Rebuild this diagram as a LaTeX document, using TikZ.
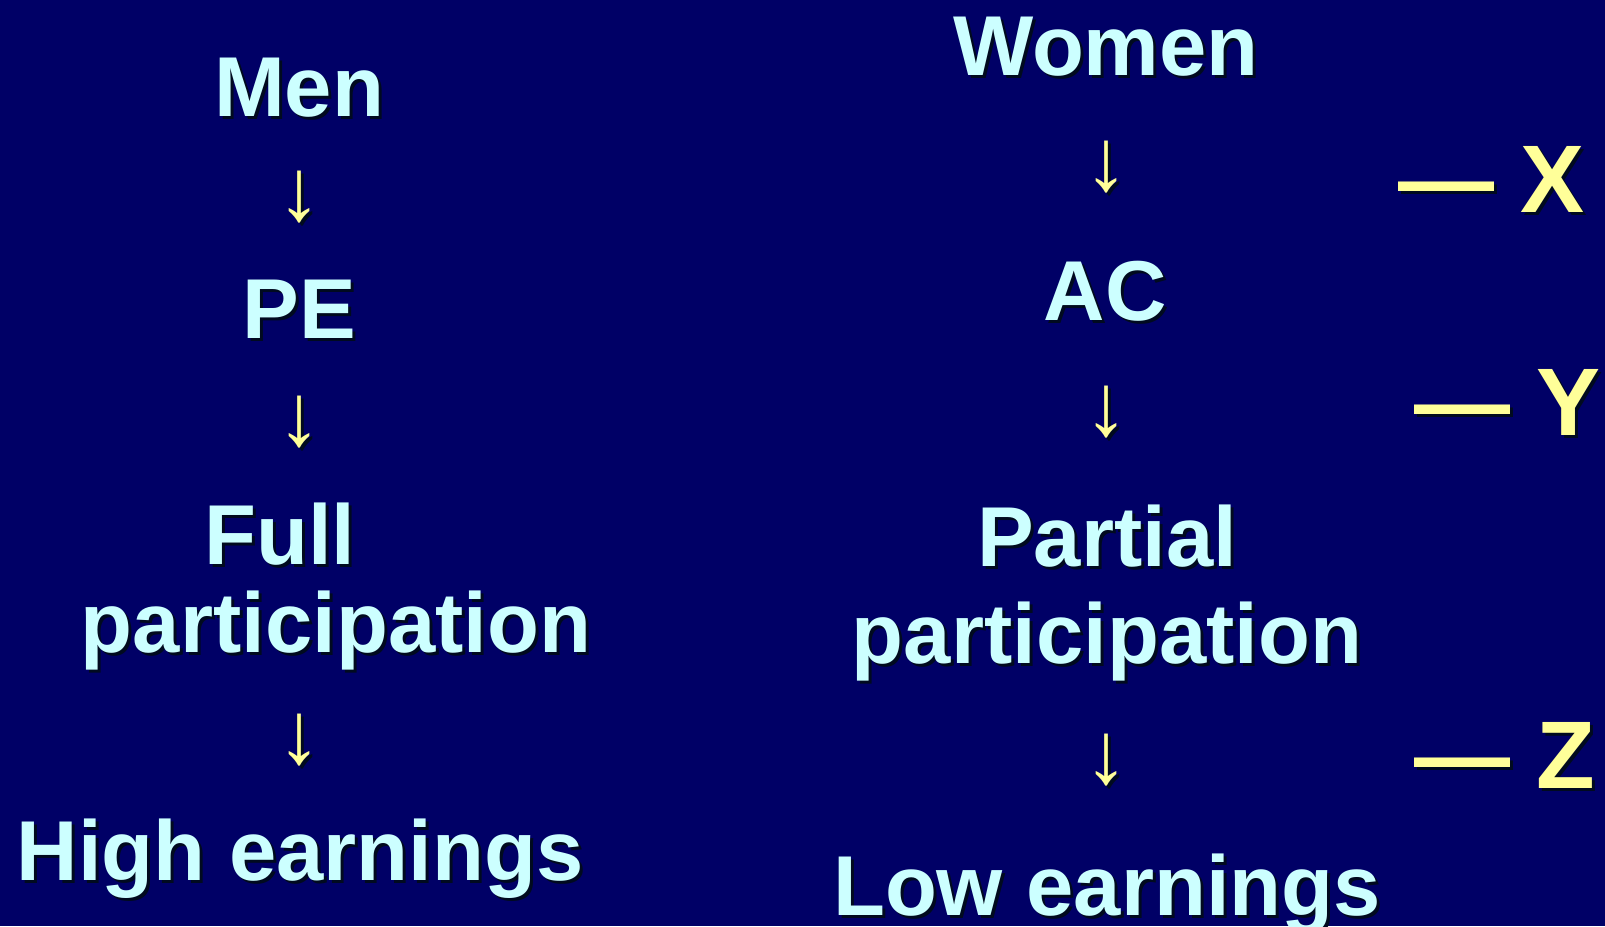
\documentclass[tikz,border=0pt]{standalone}
\usepackage{fontspec}
\setmainfont{Liberation Sans}
\usetikzlibrary{positioning}
\definecolor{slidebg}{HTML}{000066}
\definecolor{wordcyan}{HTML}{CCFFFF}
\definecolor{arrowyellow}{HTML}{FFFF99}
\definecolor{dropshadow}{HTML}{000A1F}
\tikzset{word/.style={anchor=base, inner sep=0pt, text=wordcyan, font=\bfseries\fontsize{85}{96}\selectfont}}
\tikzset{down/.style={anchor=center, inner sep=0pt, text=arrowyellow, font=\bfseries\fontsize{88}{96}\selectfont}}
\tikzset{tag/.style={anchor=base west, inner sep=0pt, text=arrowyellow, font=\bfseries\fontsize{96}{110}\selectfont}}

% text with a drop shadow: name, position, style, text
\newcommand{\shadowed}[4]{%
  \node[#3, text=dropshadow, shift={(3,3)}] (#1-shadow) at (#2) {#4};
  \node[#3] (#1) at (#2) {#4};}

\begin{document}
\begin{tikzpicture}[x=1pt, y=-1pt]
  \fill[slidebg] (0,0) rectangle (1605,926);
  \useasboundingbox (0,0) rectangle (1605,926);

  % men
  \shadowed{men}{299,116}{word}{Men}
  \shadowed{men-down-1}{299,197}{down}{↓}
  \shadowed{pe}{299,338}{word}{PE}
  \shadowed{men-down-2}{299,422}{down}{↓}
  \shadowed{full}{280,564}{word}{Full}
  \shadowed{full-part}{336,652}{word}{participation}
  \shadowed{men-down-3}{299,740}{down}{↓}
  \shadowed{high}{300,880}{word}{High earnings}

  % women
  \shadowed{women}{1106,75}{word}{Women}
  \shadowed{women-down-1}{1106,167}{down}{↓}
  \shadowed{ac}{1105,320}{word}{AC}
  \shadowed{women-down-2}{1106,412}{down}{↓}
  \shadowed{partial}{1107,566}{word}{Partial}
  \shadowed{partial-part}{1107,663}{word}{participation}
  \shadowed{women-down-3}{1106,760}{down}{↓}
  \shadowed{low}{1107,915}{word}{Low earnings}

  % side labels
  \shadowed{x}{1398,212}{tag}{— X}
  \shadowed{y}{1414,435}{tag}{— Y}
  \shadowed{z}{1414,788}{tag}{— Z}
\end{tikzpicture}
\end{document}
